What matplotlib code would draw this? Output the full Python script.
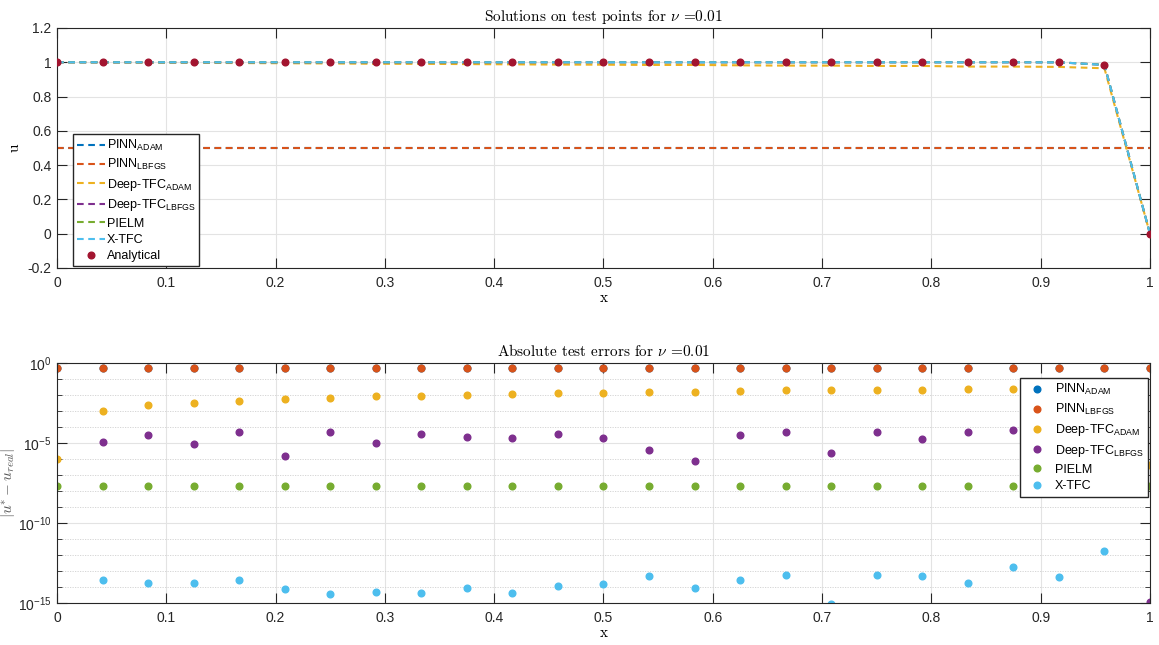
"""
Solutions and absolute test errors on the test points, Burgers problem with nu = 0.01.
"""

import numpy as np
import matplotlib
matplotlib.use("Agg")
import matplotlib.pyplot as plt
from matplotlib.ticker import FixedLocator, FuncFormatter

plt.rcParams['font.family'] = ['Liberation Sans', 'DejaVu Sans']
plt.rcParams['font.size'] = 10

# test points
x_test = [0, 1/24, 2/24, 3/24, 4/24, 5/24, 6/24, 7/24, 8/24, 9/24, 10/24, 11/24,
          12/24, 13/24, 14/24, 15/24, 16/24, 17/24, 18/24, 19/24, 20/24, 21/24,
          22/24, 23/24, 1]

# solutions on the test points
u_analytical = [1.0, 1.0, 1.0, 1.0, 1.0, 1.0, 1.0, 1.0, 1.0, 1.0, 1.0, 1.0, 1.0,
                1.0, 1.0, 1.0, 1.0, 1.0, 1.0, 1.0, 1.0, 1.0, 0.9998, 0.985, 0.0]
u_pinn_adam = [0.5] * 25
u_pinn_lbfgs = [0.5] * 25
u_dtfc_adam = [1.0, 0.999, 0.9976, 0.9968, 0.9955, 0.9944, 0.9932, 0.9913, 0.9909,
               0.9895, 0.988, 0.9867, 0.9859, 0.9845, 0.9845, 0.9822, 0.9805, 0.9805,
               0.9786, 0.9786, 0.9749, 0.9749, 0.973, 0.965, 0.0]
u_dtfc_lbfgs = [1.0, 1.0, 1.0, 1.0, 1.0, 1.0, 1.0, 1.0, 1.0, 1.0, 1.0, 1.0, 1.0,
                1.0, 1.0, 1.0, 1.0, 1.0, 1.0, 1.0, 1.0, 1.0, 0.9998, 0.985, 0.0]
u_pielm = [1.0, 1.0, 1.0, 1.0, 1.0, 1.0, 1.0, 1.0, 1.0, 1.0, 1.0, 1.0, 1.0,
           1.0, 1.0, 1.0, 1.0, 1.0, 1.0, 1.0, 1.0, 1.0, 0.9998, 0.985, 0.0]
u_xtfc = [1.0, 1.0, 1.0, 1.0, 1.0, 1.0, 1.0, 1.0, 1.0, 1.0, 1.0, 1.0, 1.0,
          1.0, 1.0, 1.0, 1.0, 1.0, 1.0, 1.0, 1.0, 1.0, 0.9998, 0.985, 0.0]

# absolute errors (nan = exactly zero, not shown on log axis)
err_pinn_adam = [0.5] * 25
err_pinn_lbfgs = [0.5] * 25
err_dtfc_adam = [1e-6, 1.0e-3, 2.4e-3, 3.2e-3, 4.5e-3, 5.6e-3, 6.8e-3, 8.7e-3, 9.1e-3,
                 1.05e-2, 1.2e-2, 1.33e-2, 1.41e-2, 1.55e-2, 1.55e-2, 1.78e-2, 1.95e-2,
                 1.95e-2, 2.14e-2, 2.14e-2, 2.5e-2, 2.5e-2, 2.7e-2, 2.0e-2, 4e-7]
err_dtfc_lbfgs = [np.nan, 1.1e-5, 3.0e-5, 8.7e-6, 4.9e-5, 1.5e-6, 4.9e-5, 9.5e-6, 3.8e-5,
                  2.5e-5, 2.0e-5, 3.8e-5, 2.0e-5, 3.6e-6, 7.5e-7, 3.0e-5, 4.9e-5,
                  2.5e-6, 5.1e-5, 1.8e-5, 5.1e-5, 6.5e-5, 5.0e-5, 1.0e-4, 1.2e-15]
err_pielm = [2.2e-8] * 25
err_xtfc = [np.nan, 2.8e-14, 1.9e-14, 1.9e-14, 2.8e-14, 8e-15, 3.6e-15, 4.7e-15, 4e-15,
            8.7e-15, 4e-15, 1.2e-14, 1.5e-14, 5.1e-14, 8.7e-15, 2.8e-14, 5.4e-14,
            8.7e-16, 5.9e-14, 5.1e-14, 1.9e-14, 1.7e-13, 4.2e-14, 1.7e-12, np.nan]

names = ["PINN$_{\\mathregular{ADAM}}$", "PINN$_{\\mathregular{LBFGS}}$",
         "Deep-TFC$_{\\mathregular{ADAM}}$", "Deep-TFC$_{\\mathregular{LBFGS}}$",
         "PIELM", "X-TFC"]
colors = ["#0072BD", "#D95319", "#EDB120", "#7E2F8E", "#77AC30", "#4DBEEE"]
dark = "#262626"


def matlab_axes(ax):
    ax.tick_params(which="both", direction="in", top=True, right=True,
                   colors=dark, labelcolor=dark)
    ax.tick_params(which="major", length=7)
    ax.tick_params(which="minor", length=3.5)
    ax.tick_params(axis="x", which="major", pad=6)
    ax.tick_params(axis="y", which="major", pad=4)
    for s in ax.spines.values():
        s.set_color(dark)
        s.set_linewidth(0.8)
    ax.set_axisbelow(True)


fig = plt.figure(figsize=(11.59, 6.45), dpi=100)
ax1 = fig.add_axes([0.0492, 0.5845, 0.9430, 0.3721])
ax2 = fig.add_axes([0.0492, 0.0651, 0.9430, 0.3721])

# ---- top: solutions
sols = [u_pinn_adam, u_pinn_lbfgs, u_dtfc_adam, u_dtfc_lbfgs, u_pielm, u_xtfc]
for u, c, n in zip(sols, colors, names):
    ax1.plot(x_test, u, ls=(0, (3.2, 2.2)), lw=1.5, color=c, label=n)
ax1.plot(x_test, u_analytical, ls="none", marker="o", ms=4.8, color="#A2142F",
         label="Analytical", zorder=5)

ax1.set_xlim(0, 1)
ax1.set_ylim(-0.2, 1.2)
ax1.set_xticks(np.arange(0, 1.01, 0.1))
ax1.set_yticks(np.arange(-0.2, 1.21, 0.2))
fmt = FuncFormatter(lambda v, p: "%g" % round(v, 2))
ax1.xaxis.set_major_formatter(fmt)
ax1.yaxis.set_major_formatter(fmt)
ax1.grid(True, color="#e3e3e3", lw=0.8)
matlab_axes(ax1)
ax1.set_title(r"Solutions on test points for $\nu$ =0.01", family="cmr10",
              math_fontfamily="cm", fontsize=11, pad=5)
ax1.set_xlabel("x", family="cmr10", fontsize=11, labelpad=1)
ax1.set_ylabel("u", family="cmr10", fontsize=11)
ax1.yaxis.set_label_coords(-0.032, 0.5)
ax1.legend(loc="lower left", bbox_to_anchor=(0.0144, 0.008), fontsize=9,
           fancybox=False, framealpha=1, edgecolor=dark, handlelength=2.3,
           handletextpad=0.1, labelspacing=0.35, borderpad=0.3, borderaxespad=0)

# ---- bottom: absolute errors
errs = [err_pinn_adam, err_pinn_lbfgs, err_dtfc_adam, err_dtfc_lbfgs, err_pielm, err_xtfc]
for e, c, n in zip(errs, colors, names):
    ax2.plot(x_test, e, ls="none", marker="o", ms=4.8, color=c, label=n)

ax2.set_yscale("log")
ax2.set_xlim(0, 1)
ax2.set_ylim(1e-15, 1)
ax2.set_xticks(np.arange(0, 1.01, 0.1))
ax2.xaxis.set_major_formatter(fmt)
ax2.yaxis.set_major_locator(FixedLocator([1e-15, 1e-10, 1e-5, 1]))
ax2.yaxis.set_minor_locator(FixedLocator([10.0 ** k for k in range(-15, 1) if k % 5]))
ax2.yaxis.set_major_formatter(FuncFormatter(
    lambda v, p: r"$\mathregular{10^{%d}}$" % round(np.log10(v))))
ax2.yaxis.set_minor_formatter(FuncFormatter(lambda v, p: ""))
ax2.grid(True, which="major", color="#e3e3e3", lw=0.8)
ax2.grid(True, which="minor", axis="y", color="#d0d0d0", lw=0.6, ls=(0, (1.5, 1.5)))
matlab_axes(ax2)
ax2.set_title(r"Absolute test errors for $\nu$ =0.01", family="cmr10",
              math_fontfamily="cm", fontsize=11, pad=5)
ax2.set_xlabel("x", family="cmr10", fontsize=11, labelpad=1)
ax2.set_ylabel(r"$|u^{*}-u_{real}|$", math_fontfamily="cm", fontsize=11, color="#555555")
ax2.yaxis.set_label_coords(-0.0366, 0.5)
ax2.legend(loc="upper right", bbox_to_anchor=(0.998, 0.9375), fontsize=9,
           fancybox=False, framealpha=1, edgecolor=dark, handlelength=2.0,
           handletextpad=0.4, labelspacing=0.38, borderpad=0.35, borderaxespad=0)

fig.savefig("out.png", dpi=100)
